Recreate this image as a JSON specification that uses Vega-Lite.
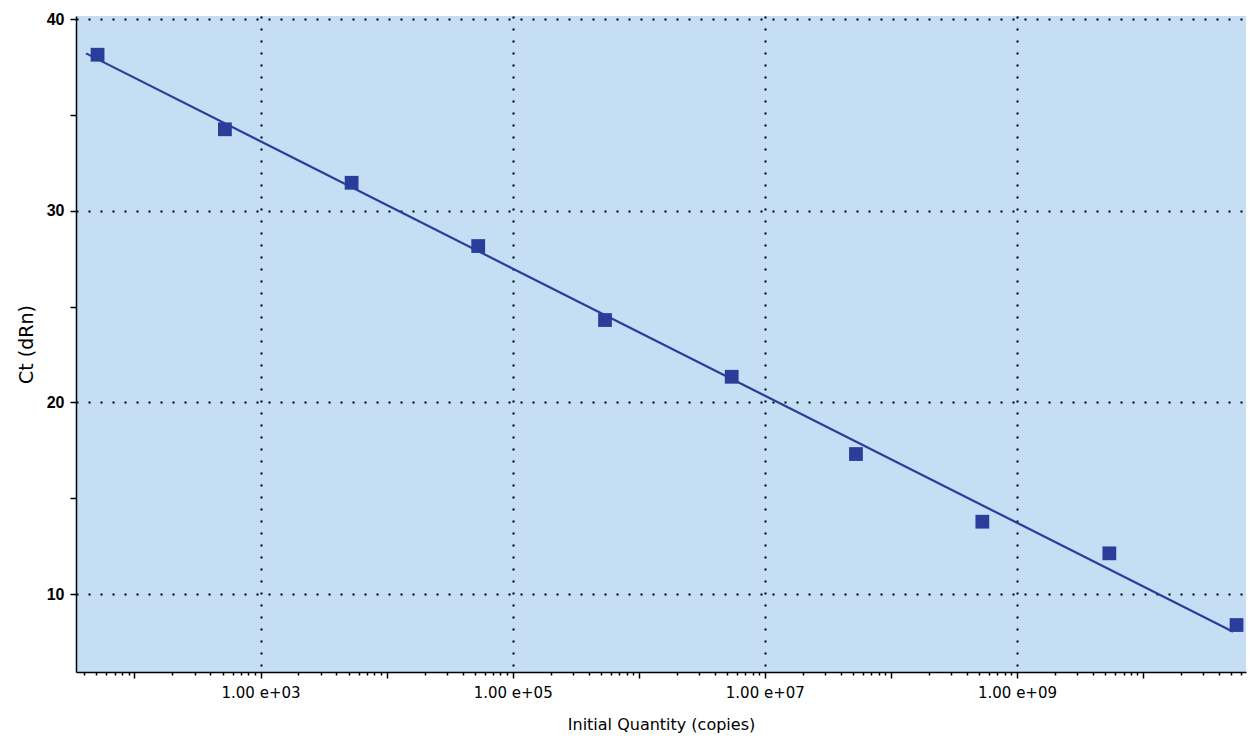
{
  "$schema": "https://vega.github.io/schema/vega-lite/v6.json",
  "width": 1170,
  "height": 656,
  "autosize": "none",
  "padding": {"left": 76, "top": 16, "right": 4, "bottom": 71},
  "background": "white",
  "config": {
    "view": {"fill": "#c5def4", "stroke": null}
  },
  "datasets": {
    "points": [
      {"quantity": 51, "ct": 38.14},
      {"quantity": 522, "ct": 34.25},
      {"quantity": 5280, "ct": 31.46},
      {"quantity": 53300, "ct": 28.16},
      {"quantity": 540000, "ct": 24.30},
      {"quantity": 5460000, "ct": 21.34},
      {"quantity": 52800000, "ct": 17.31},
      {"quantity": 531000000, "ct": 13.78},
      {"quantity": 5400000000, "ct": 12.13},
      {"quantity": 55100000000, "ct": 8.39}
    ],
    "fit": [
      {"quantity": 41.3, "ct": 38.21},
      {"quantity": 51700000000, "ct": 8.04}
    ]
  },
  "layer": [
    {
      "data": {"name": "fit"},
      "mark": {"type": "line", "color": "#2b3d9b", "strokeWidth": 2.2},
      "encoding": {
        "x": {
          "field": "quantity",
          "type": "quantitative",
          "scale": {"type": "log", "domain": [34.4, 65500000000], "nice": false},
          "axis": {
            "title": "Initial Quantity (copies)",
            "titleFont": "DejaVu Sans",
            "titleFontSize": 16,
            "titleFontWeight": "normal",
            "titleColor": "black",
            "titlePadding": 16,
            "values": [4e1, 5e1, 6e1, 7e1, 8e1, 9e1,
              1e2, 2e2, 3e2, 4e2, 5e2, 6e2, 7e2, 8e2, 9e2,
              1e3, 2e3, 3e3, 4e3, 5e3, 6e3, 7e3, 8e3, 9e3,
              1e4, 2e4, 3e4, 4e4, 5e4, 6e4, 7e4, 8e4, 9e4,
              1e5, 2e5, 3e5, 4e5, 5e5, 6e5, 7e5, 8e5, 9e5,
              1e6, 2e6, 3e6, 4e6, 5e6, 6e6, 7e6, 8e6, 9e6,
              1e7, 2e7, 3e7, 4e7, 5e7, 6e7, 7e7, 8e7, 9e7,
              1e8, 2e8, 3e8, 4e8, 5e8, 6e8, 7e8, 8e8, 9e8,
              1e9, 2e9, 3e9, 4e9, 5e9, 6e9, 7e9, 8e9, 9e9,
              1e10, 2e10, 3e10, 4e10, 5e10, 6e10],
            "labelExpr": "(abs(log(datum.value)/LN10 - round(log(datum.value)/LN10)) < 0.0001 && round(log(datum.value)/LN10) % 2 == 1) ? '1.00 e+' + format(round(log(datum.value)/LN10), '02d') : ''",
            "labelFont": "DejaVu Sans",
            "labelFontSize": 15,
            "labelColor": "black",
            "labelPadding": 7,
            "labelOverlap": false,
            "labelBound": false,
            "labelFlush": false,
            "grid": true,
            "gridColor": "black",
            "gridDash": [2, 10],
            "gridWidth": 2,
            "gridOpacity": {"condition": {"test": "abs(log(datum.value)/LN10 - round(log(datum.value)/LN10)) < 0.0001 && round(log(datum.value)/LN10) % 2 == 1", "value": 1}, "value": 0},
            "tickColor": "black",
            "tickWidth": 1.5,
            "tickSize": {"condition": {"test": "abs(log(datum.value)/LN10 - round(log(datum.value)/LN10)) < 0.0001", "value": 6}, "value": 3},
            "domainColor": "black",
            "domainWidth": 1.5
          }
        },
        "y": {
          "field": "ct",
          "type": "quantitative",
          "scale": {"domain": [5.94, 40.16], "nice": false, "zero": false},
          "axis": {
            "title": "Ct (dRn)",
            "titleFont": "DejaVu Sans",
            "titleFontSize": 19,
            "titleFontWeight": "normal",
            "titleColor": "black",
            "titlePadding": 10,
            "values": [10, 15, 20, 25, 30, 35, 40],
            "labelExpr": "datum.value % 10 == 0 ? datum.label : ''",
            "labelFont": "Liberation Sans",
            "labelFontSize": 16,
            "labelFontWeight": "bold",
            "labelColor": "black",
            "labelPadding": 6,
            "labelOverlap": false,
            "labelBound": false,
            "labelFlush": false,
            "grid": true,
            "gridColor": "black",
            "gridDash": [2, 10],
            "gridWidth": 2,
            "gridOpacity": {"condition": {"test": "datum.value % 10 == 0", "value": 1}, "value": 0},
            "tickColor": "black",
            "tickWidth": 1.5,
            "tickSize": 6,
            "domainColor": "black",
            "domainWidth": 1.5
          }
        }
      }
    },
    {
      "data": {"name": "points"},
      "mark": {"type": "point", "shape": "square", "filled": true, "color": "#2b3d9b", "size": 190, "opacity": 1},
      "encoding": {
        "x": {"field": "quantity", "type": "quantitative"},
        "y": {"field": "ct", "type": "quantitative"}
      }
    }
  ]
}
